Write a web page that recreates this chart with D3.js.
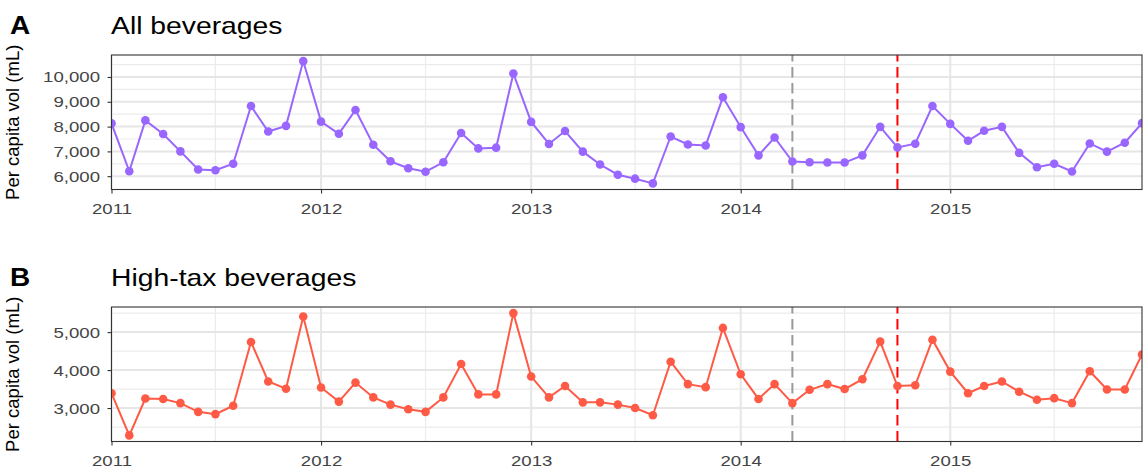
<!DOCTYPE html>
<html>
<head>
<meta charset="utf-8">
<script src="https://cdn.jsdelivr.net/npm/d3@7"></script>
<style>
  body { margin: 0; background: #fff; }
  text { font-family: "Liberation Sans", Arial, Helvetica, sans-serif; }
</style>
</head>
<body>
<script>
/* CONSTANTS AND GLOBALS */
const width = 1143;
const height = 469;
const plotLeft = 111.5;
const plotRight = 1142;
const panelHeight = 134.5;
const panelTops = [55, 307];
const stretch = 1.2; // reference text is drawn a bit wide

/* DATA */
const months = [
  "2011-01", "2011-02", "2011-03", "2011-04", "2011-05", "2011-06", "2011-07", "2011-08", "2011-09", "2011-10", "2011-11", "2011-12",
  "2012-01", "2012-02", "2012-03", "2012-04", "2012-05", "2012-06", "2012-07", "2012-08", "2012-09", "2012-10", "2012-11", "2012-12",
  "2013-01", "2013-02", "2013-03", "2013-04", "2013-05", "2013-06", "2013-07", "2013-08", "2013-09", "2013-10", "2013-11", "2013-12",
  "2014-01", "2014-02", "2014-03", "2014-04", "2014-05", "2014-06", "2014-07", "2014-08", "2014-09", "2014-10", "2014-11", "2014-12",
  "2015-01", "2015-02", "2015-03", "2015-04", "2015-05", "2015-06", "2015-07", "2015-08", "2015-09", "2015-10", "2015-11", "2015-12"
];

// per capita volume (mL), all beverages
const allBeverages = [
  8130, 6200, 8250, 7700, 7000, 6270, 6240, 6500, 8830, 7800, 8030, 10640,
  8200, 7710, 8670, 7270, 6600, 6320, 6180, 6560, 7740, 7120, 7150, 10140,
  8190, 7300, 7820, 6990, 6470, 6060, 5900, 5710, 7600, 7280, 7240, 9180,
  7980, 6840, 7560, 6590, 6560, 6550, 6550, 6840, 7990, 7160, 7310, 8830,
  8110, 7430, 7830, 7990, 6940, 6360, 6500, 6190, 7320, 6990, 7350, 8140
];

// per capita volume (mL), high-tax beverages
const highTax = [
  3390, 2280, 3250, 3240, 3130, 2900, 2840, 3060, 4740, 3700, 3510, 5410,
  3540, 3170, 3670, 3280, 3090, 2970, 2900, 3280, 4160, 3360, 3360, 5500,
  3830, 3280, 3580, 3150, 3150, 3090, 3000, 2810, 4220, 3630, 3550, 5110,
  3890, 3240, 3630, 3130, 3480, 3630, 3500, 3760, 4750, 3580, 3600, 4800,
  3960, 3390, 3580, 3700, 3430, 3220, 3260, 3130, 3970, 3490, 3490, 4410
];

const panelLetters = ["A", "B"];
const panelTitles = ["All beverages", "High-tax beverages"];
const yTitle = "Per capita vol (mL)";
const yTicksA = [6000, 7000, 8000, 9000, 10000];
const yTicksB = [3000, 4000, 5000];
const xTickYears = ["2011", "2012", "2013", "2014", "2015"];
const xMinorMonths = ["2011-07", "2012-07", "2013-07", "2014-07", "2015-07"];
const markerMonths = ["2014-04", "2014-10"];
const markerColors = ["#999999", "#FF0000"];
const seriesColors = ["#9966FF", "#FF5A45"];

/* SCALES */
const parseMonth = d3.timeParse("%Y-%m");
const parseYear = d3.timeParse("%Y");
const dates = months.map(parseMonth);

const x = d3.scaleTime()
  .domain(d3.extent(dates))
  .range([plotLeft, plotRight]);

/* CREATE SVG */
const svg = d3.select("body").append("svg")
  .attr("width", width)
  .attr("height", height);

const panels = [
  { letter: panelLetters[0], title: panelTitles[0], values: allBeverages, ticks: yTicksA, color: seriesColors[0], top: panelTops[0] },
  { letter: panelLetters[1], title: panelTitles[1], values: highTax, ticks: yTicksB, color: seriesColors[1], top: panelTops[1] }
];

panels.forEach((p, pi) => {
  const bottom = p.top + panelHeight;
  const data = p.values.map((v, i) => ({ date: dates[i], value: v }));

  // ggplot style 5% expansion
  const [lo, hi] = d3.extent(p.values);
  const pad = (hi - lo) * 0.05;
  const y = d3.scaleLinear()
    .domain([lo - pad, hi + pad])
    .range([bottom, p.top]);

  const step = p.ticks[1] - p.ticks[0];
  const yMinor = p.ticks.map(v => v - step / 2)
    .concat([p.ticks[p.ticks.length - 1] + step / 2])
    .filter(v => y(v) > p.top + 1 && y(v) < bottom - 1);

  const g = svg.append("g").attr("class", "panel");

  svg.append("clipPath").attr("id", "clip" + pi)
    .append("rect")
    .attr("x", plotLeft).attr("y", p.top)
    .attr("width", plotRight - plotLeft).attr("height", panelHeight);

  // GRID
  g.selectAll(".ygrid-minor").data(yMinor).enter().append("line")
    .attr("x1", plotLeft).attr("x2", plotRight)
    .attr("y1", d => y(d)).attr("y2", d => y(d))
    .attr("stroke", "#EBEBEB").attr("stroke-width", 1.2);

  g.selectAll(".xgrid-minor").data(xMinorMonths.map(parseMonth)).enter().append("line")
    .attr("x1", d => x(d)).attr("x2", d => x(d))
    .attr("y1", p.top).attr("y2", bottom)
    .attr("stroke", "#EBEBEB").attr("stroke-width", 1.2);

  g.selectAll(".ygrid").data(p.ticks).enter().append("line")
    .attr("x1", plotLeft).attr("x2", plotRight)
    .attr("y1", d => y(d)).attr("y2", d => y(d))
    .attr("stroke", "#E6E6E6").attr("stroke-width", 2);

  g.selectAll(".xgrid").data(xTickYears.map(parseYear)).enter().append("line")
    .attr("x1", d => x(d)).attr("x2", d => x(d))
    .attr("y1", p.top).attr("y2", bottom)
    .attr("stroke", "#E6E6E6").attr("stroke-width", 2);

  // INTERVENTION LINES
  g.selectAll(".marker").data(markerMonths.map(parseMonth)).enter().append("line")
    .attr("x1", d => x(d)).attr("x2", d => x(d))
    .attr("y1", bottom).attr("y2", p.top)
    .attr("stroke", (d, i) => markerColors[i])
    .attr("stroke-width", 2)
    .attr("stroke-dasharray", "10.5,5.5");

  // SERIES
  const plot = g.append("g").attr("clip-path", "url(#clip" + pi + ")");

  plot.append("path")
    .datum(data)
    .attr("fill", "none")
    .attr("stroke", p.color)
    .attr("stroke-width", 2)
    .attr("d", d3.line().x(d => x(d.date)).y(d => y(d.value)));

  plot.selectAll("circle").data(data).enter().append("circle")
    .attr("cx", d => x(d.date))
    .attr("cy", d => y(d.value))
    .attr("r", 4.3)
    .attr("fill", p.color);

  // BORDER
  g.append("rect")
    .attr("x", plotLeft).attr("y", p.top)
    .attr("width", plotRight - plotLeft).attr("height", panelHeight)
    .attr("fill", "none").attr("stroke", "#333333").attr("stroke-width", 1.1);

  // AXES
  const xAxis = d3.axisBottom(x)
    .tickValues(xTickYears.map(parseYear))
    .tickFormat(d3.timeFormat("%Y"))
    .tickSize(4)
    .tickPadding(10);

  const yAxis = d3.axisLeft(y)
    .tickValues(p.ticks)
    .tickFormat(d3.format(","))
    .tickSize(4)
    .tickPadding(5.6);

  [[xAxis, "translate(0," + bottom + ")"], [yAxis, "translate(" + plotLeft + ",0)"]].forEach(([ax, tr]) => {
    const a = g.append("g")
      .attr("transform", tr)
      .call(ax)
      .attr("font-family", null)
      .attr("font-size", 15.5);
    a.select(".domain").remove();
    a.selectAll(".tick line").attr("stroke", "#333333").attr("stroke-width", 1.1);
    a.selectAll(".tick text")
      .attr("fill", "#444444")
      .attr("transform", "scale(" + stretch + ",1)");
  });

  // TITLES
  g.append("text")
    .attr("transform", "translate(10," + (p.top - 21) + ") scale(1.12,1)")
    .attr("font-size", 25)
    .attr("font-weight", "bold")
    .text(p.letter);

  g.append("text")
    .attr("transform", "translate(111," + (p.top - 21) + ") scale(1.18,1)")
    .attr("font-size", 24)
    .text(p.title);

  g.append("text")
    .attr("transform", "translate(19," + (p.top + panelHeight / 2) + ") rotate(-90)")
    .attr("text-anchor", "middle")
    .attr("font-size", 18.5)
    .text(yTitle);
});
</script>
</body>
</html>
